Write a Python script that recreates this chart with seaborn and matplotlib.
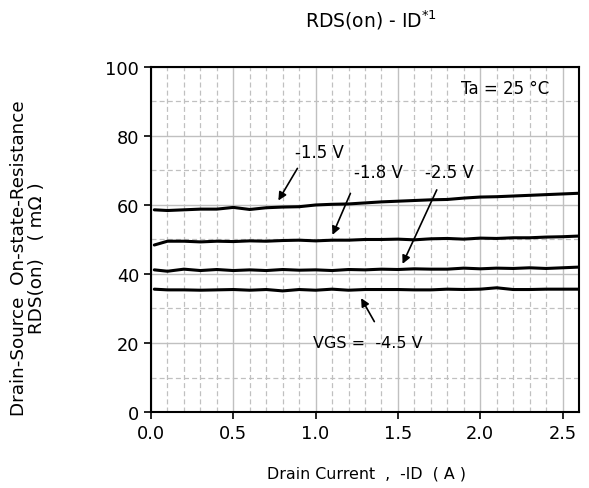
import numpy as np
import pandas as pd
import matplotlib
matplotlib.use("Agg")
import matplotlib.pyplot as plt
import seaborn as sns
from matplotlib.ticker import MultipleLocator

# drain current -ID (A)
id_a = [0.02, 0.1, 0.2, 0.3, 0.4, 0.5, 0.6, 0.7, 0.8, 0.9, 1.0, 1.1, 1.2, 1.3,
        1.4, 1.5, 1.6, 1.7, 1.8, 1.9, 2.0, 2.1, 2.2, 2.3, 2.4, 2.5, 2.6]

# RDS(on) in mOhm for each VGS
r_15 = [58.6, 58.4, 58.6, 58.8, 58.8, 59.3, 58.7, 59.2, 59.4, 59.5, 60.0, 60.2, 60.3, 60.6,
        60.9, 61.1, 61.3, 61.5, 61.6, 62.0, 62.3, 62.4, 62.6, 62.8, 63.0, 63.2, 63.4]
r_18 = [48.4, 49.5, 49.5, 49.3, 49.5, 49.4, 49.6, 49.5, 49.7, 49.8, 49.6, 49.8, 49.8, 50.0,
        50.0, 50.1, 49.9, 50.2, 50.3, 50.1, 50.4, 50.3, 50.5, 50.5, 50.7, 50.8, 51.0]
r_25 = [41.2, 40.8, 41.4, 41.0, 41.3, 41.0, 41.2, 41.0, 41.3, 41.1, 41.2, 41.0, 41.3, 41.2,
        41.4, 41.3, 41.5, 41.4, 41.4, 41.7, 41.5, 41.7, 41.6, 41.8, 41.6, 41.8, 42.0]
r_45 = [35.6, 35.4, 35.4, 35.3, 35.4, 35.5, 35.3, 35.5, 35.1, 35.5, 35.3, 35.6, 35.3, 35.5,
        35.5, 35.5, 35.4, 35.4, 35.6, 35.5, 35.6, 36.0, 35.5, 35.5, 35.6, 35.6, 35.6]

vgs_labels = ["-1.5 V", "-1.8 V", "-2.5 V", "-4.5 V"]

df = pd.DataFrame({
    "ID": id_a * 4,
    "RDS": r_15 + r_18 + r_25 + r_45,
    "VGS": sum([[v] * len(id_a) for v in vgs_labels], []),
})

sns.set_style("white")
plt.rcParams['font.family'] = ['DejaVu Sans']
plt.rcParams['text.color'] = 'black'

fig = plt.figure(figsize=(5.89, 4.89), dpi=100)
ax = fig.add_axes([0.2564, 0.1554, 0.7266, 0.7056])

sns.lineplot(data=df, x="ID", y="RDS", hue="VGS", palette=["black"] * 4,
             linewidth=2.2, legend=False, ax=ax)

ax.set_xlim(0, 2.6)
ax.set_ylim(0, 100)
ax.xaxis.set_major_locator(MultipleLocator(0.5))
ax.xaxis.set_minor_locator(MultipleLocator(0.1))
ax.yaxis.set_major_locator(MultipleLocator(20))
ax.yaxis.set_minor_locator(MultipleLocator(10))
ax.xaxis.set_major_formatter(matplotlib.ticker.FormatStrFormatter("%.1f"))
ax.grid(which="major", color="#c0c0c0", linestyle="-", linewidth=1.0)
ax.grid(which="minor", color="#c0c0c0", linestyle=(0, (4, 2.5)), linewidth=0.9)
ax.set_axisbelow(True)
ax.tick_params(which="major", direction="out", length=5, width=1.2, labelsize=12.8,
               colors="black", bottom=True, left=True)
ax.tick_params(which="minor", length=0)
for s in ax.spines.values():
    s.set_color("black")
    s.set_linewidth(1.5)
ax.set_xlabel("")
ax.set_ylabel("")

# annotations
arrow = dict(arrowstyle="-|>", color="black", lw=1.2, mutation_scale=12)
fs = 12
ax.annotate("", xy=(0.765, 60.6), xytext=(0.898, 71.3), arrowprops=arrow)
ax.text(1.025, 75.4, "-1.5 V", ha="center", va="center", fontsize=fs)
ax.annotate("", xy=(1.096, 50.6), xytext=(1.218, 64.1), arrowprops=arrow)
ax.text(1.38, 69.5, "-1.8 V", ha="center", va="center", fontsize=fs)
ax.annotate("", xy=(1.521, 42.2), xytext=(1.743, 65.1), arrowprops=arrow)
ax.text(1.81, 69.7, "-2.5 V", ha="center", va="center", fontsize=fs)
ax.annotate("", xy=(1.268, 33.7), xytext=(1.365, 25.5), arrowprops=arrow)
ax.text(1.319, 20.2, "VGS =  -4.5 V", ha="center", va="center", fontsize=11.5)
ax.text(2.154, 93.8, "Ta = 25 °C", ha="center", va="center", fontsize=fs)

fig.text(371 / 589, 1 - 20 / 489, r"RDS(on) - ID$^{\mathregular{*1}}$",
         ha="center", va="center", fontsize=13.5)
fig.text(366.7 / 589, 1 - 474 / 489, "Drain Current  ,  -ID  ( A )",
         ha="center", va="center", fontsize=11.4)
fig.text(28 / 589, 1 - 258 / 489, "Drain-Source  On-state-Resistance\nRDS(on)   ( mΩ )",
         ha="center", va="center", rotation=90, fontsize=13.2, linespacing=0.95,
         multialignment="center")

fig.savefig("out.png", dpi=100)
